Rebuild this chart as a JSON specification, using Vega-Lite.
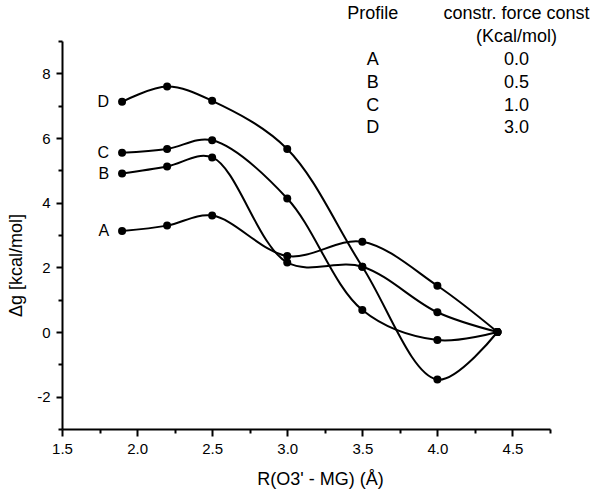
{
  "$schema": "https://vega.github.io/schema/vega-lite/v6.json",
  "width": 488,
  "height": 388,
  "autosize": {"type": "none"},
  "padding": {"left": 62, "top": 41, "right": 51, "bottom": 61},
  "background": "white",
  "config": {
    "view": {"stroke": null},
    "font": "Liberation Sans",
    "axis": {
      "domainColor": "black", "tickColor": "black", "labelColor": "black", "titleColor": "black",
      "domainWidth": 2, "tickWidth": 2, "grid": false,
      "labelFont": "Liberation Sans", "titleFont": "Liberation Sans",
      "labelFontSize": 15, "titleFontSize": 18, "titleFontWeight": "normal",
      "labelFlush": false, "labelOverlap": false
    }
  },
  "datasets": {
    "profiles": [
      {"profile": "A", "r": 1.9, "dg": 3.12}, {"profile": "A", "r": 2.2, "dg": 3.29}, {"profile": "A", "r": 2.5, "dg": 3.6},
      {"profile": "A", "r": 3.0, "dg": 2.35}, {"profile": "A", "r": 3.5, "dg": 2.79}, {"profile": "A", "r": 4.0, "dg": 1.43}, {"profile": "A", "r": 4.4, "dg": 0},
      {"profile": "B", "r": 1.9, "dg": 4.9}, {"profile": "B", "r": 2.2, "dg": 5.12}, {"profile": "B", "r": 2.5, "dg": 5.4},
      {"profile": "B", "r": 3.0, "dg": 2.15}, {"profile": "B", "r": 3.5, "dg": 2.02}, {"profile": "B", "r": 4.0, "dg": 0.61}, {"profile": "B", "r": 4.4, "dg": 0},
      {"profile": "C", "r": 1.9, "dg": 5.54}, {"profile": "C", "r": 2.2, "dg": 5.66}, {"profile": "C", "r": 2.5, "dg": 5.93},
      {"profile": "C", "r": 3.0, "dg": 4.13}, {"profile": "C", "r": 3.5, "dg": 0.68}, {"profile": "C", "r": 4.0, "dg": -0.25}, {"profile": "C", "r": 4.4, "dg": 0},
      {"profile": "D", "r": 1.9, "dg": 7.12}, {"profile": "D", "r": 2.2, "dg": 7.59}, {"profile": "D", "r": 2.5, "dg": 7.15},
      {"profile": "D", "r": 3.0, "dg": 5.66}, {"profile": "D", "r": 3.5, "dg": 2.02}, {"profile": "D", "r": 4.0, "dg": -1.47}, {"profile": "D", "r": 4.4, "dg": 0}
    ],
    "table": [
      {"row": -1, "c1": "Profile", "c2": "constr. force const"},
      {"row": 0, "c1": "", "c2": "(Kcal/mol)"},
      {"row": 1, "c1": "A", "c2": "0.0"},
      {"row": 2, "c1": "B", "c2": "0.5"},
      {"row": 3, "c1": "C", "c2": "1.0"},
      {"row": 4, "c1": "D", "c2": "3.0"}
    ]
  },
  "layer": [
    {
      "data": {"name": "profiles"},
      "encoding": {
        "x": {"field": "r", "type": "quantitative",
          "scale": {"domain": [1.5, 4.75], "nice": false, "zero": false},
          "axis": {"orient": "bottom", "values": [1.5, 2, 2.5, 3, 3.5, 4, 4.5], "format": ".1f", "tickSize": 7, "labelPadding": 5,
            "title": "R(O3' - MG)  (Å)", "titleX": 258, "titleY": 50, "titleBaseline": "middle", "titleAlign": "center"}},
        "y": {"field": "dg", "type": "quantitative",
          "scale": {"domain": [-3, 9], "nice": false, "zero": false},
          "axis": {"orient": "left", "values": [-2, 0, 2, 4, 6, 8], "labelExpr": "datum.value", "tickSize": 6, "labelPadding": 6,
            "title": "Δg [kcal/mol]", "titleX": -46, "titleY": 224, "titleBaseline": "middle", "titleAlign": "center", "titleAngle": -90}}
      },
      "layer": [
        {"mark": {"type": "line", "interpolate": "catmull-rom", "color": "black", "strokeWidth": 2},
         "encoding": {"detail": {"field": "profile"}}},
        {"mark": {"type": "point", "filled": true, "color": "black", "opacity": 1, "size": 64}},
        {"transform": [{"filter": "datum.r == 1.9"}],
         "mark": {"type": "text", "align": "right", "baseline": "middle", "dx": -13, "fontSize": 16, "color": "black", "font": "Liberation Sans"},
         "encoding": {"text": {"field": "profile"}}}
      ]
    },
    {
      "data": {"name": "profiles"},
      "mark": {"type": "point", "opacity": 0},
      "encoding": {
        "x": {"field": "r", "type": "quantitative",
          "scale": {"domain": [1.5, 4.75], "nice": false, "zero": false},
          "axis": {"orient": "bottom", "values": [1.75, 2.25, 2.75, 3.25, 3.75, 4.25, 4.75], "labels": false, "domain": false, "tickSize": 4, "title": null}},
        "y": {"field": "dg", "type": "quantitative",
          "scale": {"domain": [-3, 9], "nice": false, "zero": false},
          "axis": {"orient": "left", "values": [-3, -1, 1, 3, 5, 7, 9], "labels": false, "domain": false, "tickSize": 4, "title": null}}
      }
    },
    {
      "data": {"name": "table"},
      "encoding": {
        "y": {"field": "row", "type": "quantitative",
          "scale": {"domain": [0.1667, 17.18], "reverse": true, "nice": false, "zero": false}, "axis": null}
      },
      "layer": [
        {"mark": {"type": "text", "fontSize": 18, "color": "black", "align": "center", "baseline": "middle", "font": "Liberation Sans"},
         "encoding": {"x": {"datum": 3.57, "type": "quantitative", "axis": null}, "text": {"field": "c1"}}},
        {"mark": {"type": "text", "fontSize": 18, "color": "black", "align": "center", "baseline": "middle", "font": "Liberation Sans"},
         "encoding": {"x": {"datum": 4.527, "type": "quantitative", "axis": null}, "text": {"field": "c2"}}}
      ]
    }
  ],
  "resolve": {"scale": {"y": "independent"}, "axis": {"x": "independent", "y": "independent"}}
}
